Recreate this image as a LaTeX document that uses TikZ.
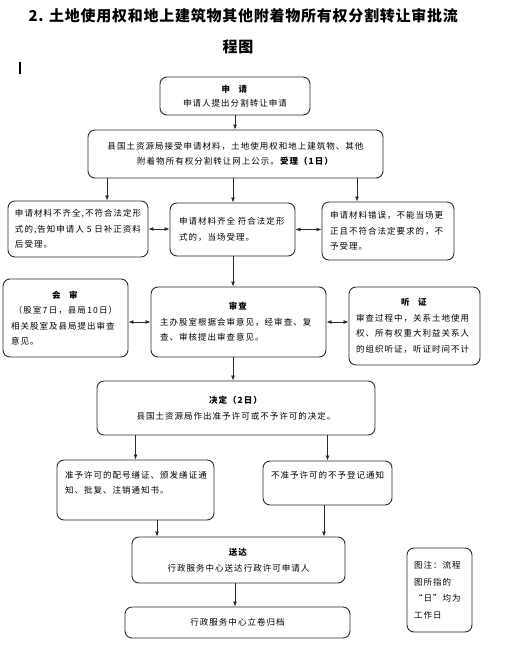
\documentclass[tikz,border=0pt]{standalone}
\usepackage{fontspec}
\usepackage{xcolor}
\usetikzlibrary{arrows.meta,positioning,calc}
\newfontfamily\cjk[LetterSpace=12]{Noto Sans CJK SC}
\newfontfamily\cjktitle[LetterSpace=5]{Noto Sans CJK SC}
\definecolor{LineGray}{HTML}{2B2B2B}
\tikzset{
  flowbox/.style={rounded corners=7pt, draw=LineGray, line width=0.9pt, fill=white, inner xsep=10pt, inner ysep=3pt},
  leftbox/.style={flowbox, align=left},
  midbox/.style={flowbox, align=center},
  arrow/.style={-{Latex[length=5pt,width=4pt]}, line width=0.8pt, draw=LineGray},
  twoway/.style={{Latex[length=5pt,width=4pt]}-{Latex[length=5pt,width=4pt]}, line width=0.8pt, draw=LineGray}
}
\newcommand{\midline}[1]{\hfill#1\hfill\null\\}

\begin{document}
\begin{tikzpicture}[x=1pt, y=-1pt, every node/.style={font=\cjk\fontsize{8.5}{15.5}\selectfont, execute at begin node=\setlength{\parindent}{0pt}}]
\useasboundingbox (0,0) rectangle (528,657);
\node[anchor=west, font=\cjktitle\bfseries\fontsize{15}{17}\selectfont] (title) at (25,16) {2. 土地使用权和地上建筑物其他附着物所有权分割转让审批流};
\node[font=\cjktitle\bfseries\fontsize{15}{17}\selectfont] (title2) at (238,47) {程图};
\draw[line width=1.6pt] (20,62) -- (20,74);

\node[midbox, minimum width=150pt, minimum height=38pt] (apply) at (235,96) {\textbf{申\hspace{1em}请}\\[-2pt]申请人提出分割转让申请};
\node[midbox, minimum width=295pt, minimum height=48pt] (accept) at (235.5,154) {县国土资源局接受申请材料，土地使用权和地上建筑物、其他\\附着物所有权分割转让网上公示。\textbf{受理（1日）}};

\node[leftbox, text width=126pt, inner xsep=7pt, minimum height=56pt] (incomplete) at (78,229) {申请材料不齐全,不符合法定形\\式的,告知申请人 5 日补正资料\\后受理。};
\node[leftbox, text width=107pt, inner xsep=9pt, minimum height=53pt] (complete) at (232.5,229.5) {申请材料齐全 符合法定形\\式的，当场受理。};
\node[leftbox, text width=116pt, inner xsep=8pt, minimum height=58pt] (wrong) at (388,231) {申请材料错误，不能当场更\\正且不符合法定要求的，不\\予受理。};

\node[leftbox, text width=109pt, inner xsep=8pt, minimum height=78pt] (joint) at (65.5,318) {\midline{\textbf{会\hspace{1em}审}}\midline{\mbox{（股室\,7\,日，县局\,10\,日）}}相关股室及县局提出审查\\意见。};
\node[leftbox, text width=157pt, inner xsep=9pt, minimum height=70pt] (review) at (238.5,322) {\midline{\textbf{审查}}主办股室根据会审意见，经审查、复\\查、审核提出审查意见。};
\node[leftbox, text width=117pt, inner xsep=7pt, minimum height=78pt] (hearing) at (414.5,326) {\midline{\textbf{听\hspace{1em}证}}审查过程中，关系土地使用\\权、所有权重大利益关系人\\的组织听证，听证时间不计};

\node[midbox, minimum width=278pt, minimum height=54pt] (decide) at (236,408) {\textbf{决定（2日）}\\县国土资源局作出准予许可或不予许可的决定。};

\node[leftbox, text width=141pt, inner xsep=8pt, minimum height=60pt] (grant) at (135.5,490) {准予许可的配号缮证、颁发缮证通\\知、批复、注销通知书。\\\mbox{}};
\node[leftbox, text width=113pt, inner xsep=8pt, minimum height=44pt] (refuse) at (327.5,483) {不准予许可的不予登记通知\\\mbox{}};

\node[midbox, minimum width=213pt, minimum height=46pt] (deliver) at (238.5,560) {\textbf{送达}\\行政服务中心送达行政许可申请人};
\node[midbox, minimum width=225pt, minimum height=31pt] (archive) at (237.5,622.5) {行政服务中心立卷归档};
\node[leftbox, text width=51pt, inner xsep=7pt, minimum height=84pt, font=\cjk\fontsize{8.5}{16.5}\selectfont] (note) at (439.5,590) {图注：流程\\图所指的\\“日”均为\\工作日};

\coordinate (colA) at (107,0);
\coordinate (colB) at (233,0);
\coordinate (colC) at (357,0);
\coordinate (colD) at (157,0);
\coordinate (colE) at (324,0);
\coordinate (colF) at (235,0);

\draw[arrow] (apply.south) -- (apply.south |- accept.north);
\draw[arrow] (accept.south -| colA) -- (colA |- incomplete.north);
\draw[arrow] (accept.south -| colB) -- (colB |- complete.north);
\draw[arrow] (accept.south -| colC) -- (colC |- wrong.north);
\draw[twoway] (incomplete.east) -- (incomplete.east -| complete.west);
\draw[twoway] (complete.east) -- (complete.east -| wrong.west);
\draw[arrow] (complete.south -| colB) -- (colB |- review.north);
\draw[twoway] (review.west -| joint.east) -- (review.west);
\draw[twoway] (review.east) -- (review.east -| hearing.west);
\draw[arrow] (review.south -| colB) -- (colB |- decide.north);
\draw[arrow] (decide.south -| grant.north) -- (grant.north);
\draw[arrow] (decide.south -| refuse.north) -- (refuse.north);
\draw[arrow] (grant.south -| colD) -- (colD |- deliver.north);
\draw[arrow] (refuse.south -| colE) -- (colE |- deliver.north);
\draw[arrow] (deliver.south -| colF) -- (colF |- archive.north);
\end{tikzpicture}
\end{document}
